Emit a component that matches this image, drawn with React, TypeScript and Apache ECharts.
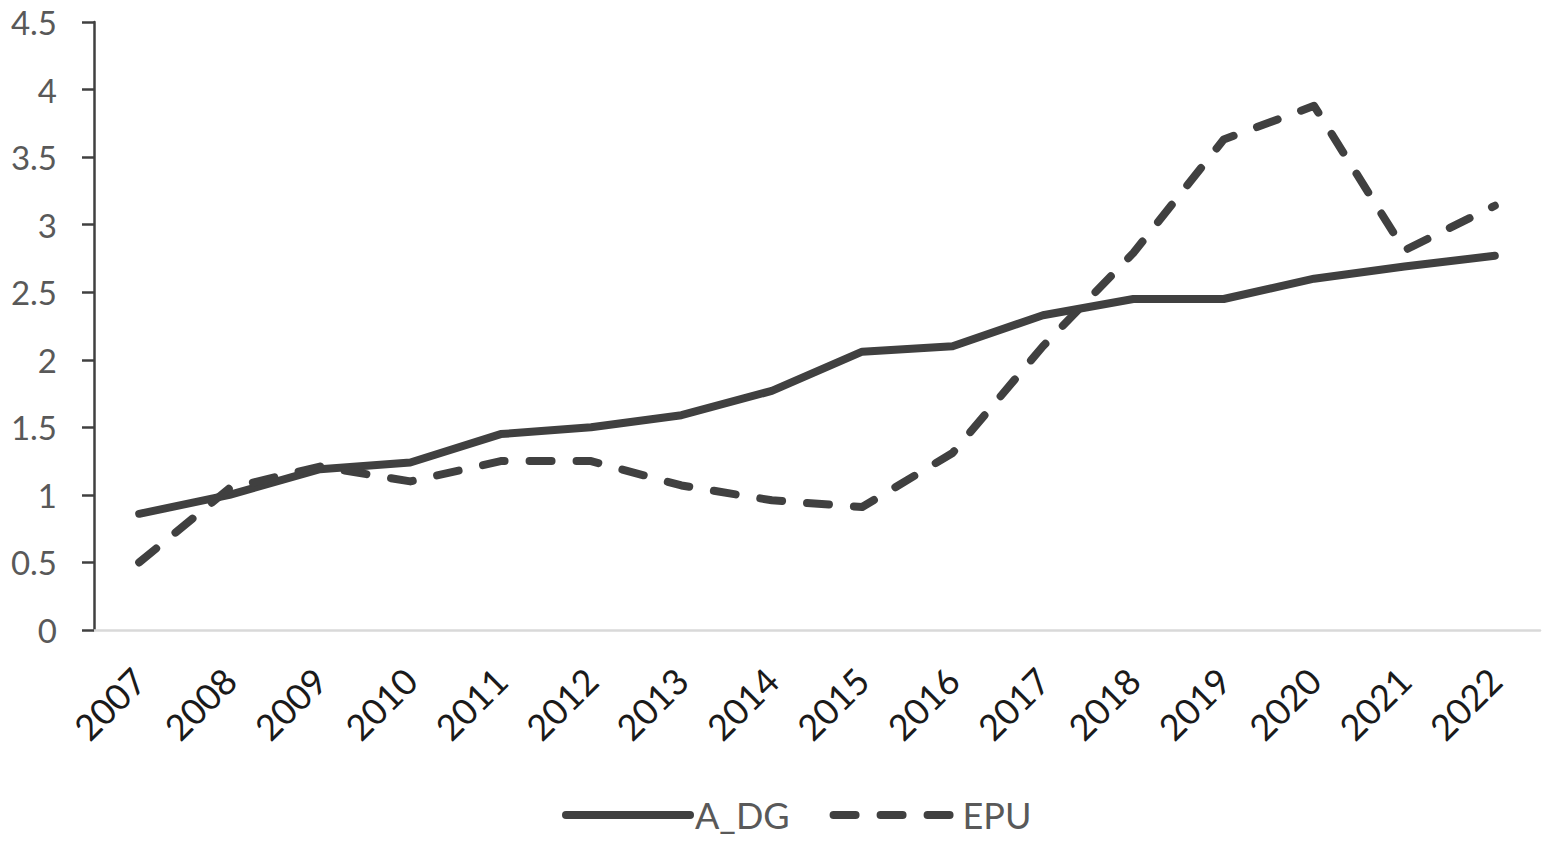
import React, { useEffect, useRef } from "react";
import * as echarts from "echarts";

const years = ["2007","2008","2009","2010","2011","2012","2013","2014","2015","2016","2017","2018","2019","2020","2021","2022"];
const aDG = [0.86, 1.0, 1.19, 1.24, 1.45, 1.5, 1.59, 1.77, 2.06, 2.1, 2.33, 2.45, 2.45, 2.6, 2.69, 2.77];
const epu = [0.5, 1.05, 1.21, 1.1, 1.25, 1.25, 1.07, 0.96, 0.91, 1.31, 2.1, 2.79, 3.63, 3.88, 2.81, 3.14];
const seriesNames = ["A_DG", "EPU"];

const FONT = "Lato";
const LINE = "#404040";

export default function App() {
  const ref = useRef<HTMLDivElement>(null);
  useEffect(() => {
    document.body.style.margin = "0";
    const chart = echarts.init(ref.current!, null, { renderer: "svg" });
    chart.setOption({
      animation: false,
      backgroundColor: "#ffffff",
      grid: { left: 94, right: 7, top: 22, bottom: 211, containLabel: false },
      legend: {
        left: 562,
        top: 797,
        padding: 0,
        itemWidth: 124,
        itemHeight: 36,
        itemGap: 40,
        itemStyle: { color: "rgba(0,0,0,0)", borderWidth: 0, opacity: 0 },
        lineStyle: { width: 8, cap: "round", color: LINE },
        textStyle: { color: "#595959", fontSize: 36, fontFamily: FONT },
        data: seriesNames,
      },
      xAxis: {
        type: "category",
        data: years,
        boundaryGap: true,
        axisLine: { lineStyle: { color: "#d9d9d9", width: 2.5 } },
        axisTick: { show: false },
        axisLabel: {
          rotate: 45,
          interval: 0,
          margin: 44,
          align: "right",
          verticalAlign: "middle",
          color: "#1a1a1a",
          fontSize: 36,
          fontFamily: FONT,
        },
        splitLine: { show: false },
      },
      yAxis: {
        type: "value",
        min: 0,
        max: 4.5,
        interval: 0.5,
        axisLine: { show: true, lineStyle: { color: LINE, width: 2.5 } },
        axisTick: { show: true, length: 12, lineStyle: { color: LINE, width: 2.5 } },
        axisLabel: { color: "#595959", fontSize: 33, fontFamily: FONT, margin: 37 },
        splitLine: { show: false },
      },
      series: [
        {
          name: seriesNames[0],
          type: "line",
          data: aDG,
          symbol: "none",
          lineStyle: { color: LINE, width: 8, cap: "round", join: "round" },
          itemStyle: { color: LINE },
        },
        {
          name: seriesNames[1],
          type: "line",
          data: epu,
          symbol: "none",
          lineStyle: { color: LINE, width: 8, type: [22, 25], cap: "round", join: "round" },
          itemStyle: { color: LINE },
        },
      ],
    });
    return () => chart.dispose();
  }, []);
  return <div ref={ref} style={{ width: 1547, height: 841 }} />;
}
